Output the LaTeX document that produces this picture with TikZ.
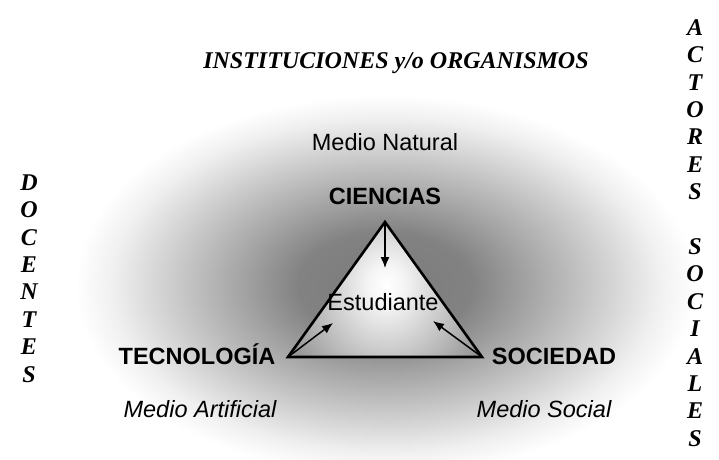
\documentclass[tikz,border=0pt]{standalone}
\usepackage{fontspec}
\setmainfont{Liberation Sans}
\newfontfamily\romanfont{Liberation Serif}
\usetikzlibrary{arrows.meta, positioning}
\colorlet{haloA}{black!52}
\colorlet{haloB}{black!49}
\colorlet{haloC}{black!36}
\colorlet{haloD}{black!19}
\colorlet{haloE}{black!6}
\colorlet{spotA}{white}
\colorlet{spotB}{black!4}
\colorlet{spotC}{black!42}
\pgfdeclareradialshading{halo}{\pgfpoint{0bp}{0bp}}{%
	color(0bp)=(haloA); color(7bp)=(haloB); color(11.5bp)=(haloC);%
	color(17.5bp)=(haloD); color(22bp)=(haloE); color(25bp)=(white);%
	color(50bp)=(white)}
\pgfdeclareradialshading{spot}{\pgfpoint{0bp}{0bp}}{%
	color(0bp)=(spotA); color(4bp)=(spotB); color(25bp)=(spotC);%
	color(50bp)=(spotC)}
\tikzset{%
	txt/.style={inner sep=0pt, font=\fontsize{23.5}{27.6}\selectfont},
	corner/.style={inner sep=0pt, font=\fontsize{23.5}{27.6}\selectfont\bfseries},
	medio/.style={inner sep=0pt, font=\fontsize{23.5}{27.6}\selectfont\itshape},
	serif/.style={inner sep=0pt, font=\romanfont\fontsize{24}{27.4}\selectfont\bfseries\itshape},
	vert/.style={serif, align=center},
	side/.style={line width=2.6pt, line join=miter},
	flow/.style={-{Latex[length=11pt, width=9pt]}, line width=1.5pt}
}
\begin{document}
\begin{tikzpicture}[x=1pt, y=-1pt]
	\useasboundingbox (0,0) rectangle (719,459);
	\begin{scope}
		\clip (0,0) rectangle (719,459);
		\shade[shading=halo] (385,285) ellipse [x radius=310, y radius=190];
	\end{scope}

	\coordinate (cie) at (385,222);
	\coordinate (tec) at (288,357);
	\coordinate (soc) at (482,357);
	\coordinate (cie-in) at (385,268);
	\coordinate (tec-in) at (333,323);
	\coordinate (soc-in) at (433,321);

	\begin{scope}
		\clip (cie) -- (tec) -- (soc) -- cycle;
		\shade[shading=spot] (386,285) ellipse [x radius=110, y radius=125];
	\end{scope}
	\draw[side] (cie) -- (tec) -- (soc) -- cycle;

	\draw[flow] (cie) to (cie-in);
	\draw[flow] (tec) to (tec-in);
	\draw[flow] (soc) to (soc-in);

	\node[corner, above=17pt of cie] (ciencias) {CIENCIAS};
	\node[txt, above=37pt of ciencias] (natural) {Medio Natural};
	\node[txt, anchor=base] (estudiante) at (383,310) {Estudiante};
	\node[corner, anchor=base] (tecnologia) at (197,364) {TECNOLOGÍA};
	\node[corner, anchor=base] (sociedad) at (554,364) {SOCIEDAD};
	\node[medio, anchor=base] (artificial) at (200,417) {Medio Artificial};
	\node[medio, anchor=base] (social) at (544,417) {Medio Social};

	\node[serif, anchor=base] (instituciones) at (396,68) {INSTITUCIONES y/o ORGANISMOS};
	\node[vert] (docentes) at (29,278.5) {D\\O\\C\\E\\N\\T\\E\\S};
	\node[vert] (actores) at (695,233) {A\\C\\T\\O\\R\\E\\S\\[27.4pt]S\\O\\C\\I\\A\\L\\E\\S};
\end{tikzpicture}
\end{document}
